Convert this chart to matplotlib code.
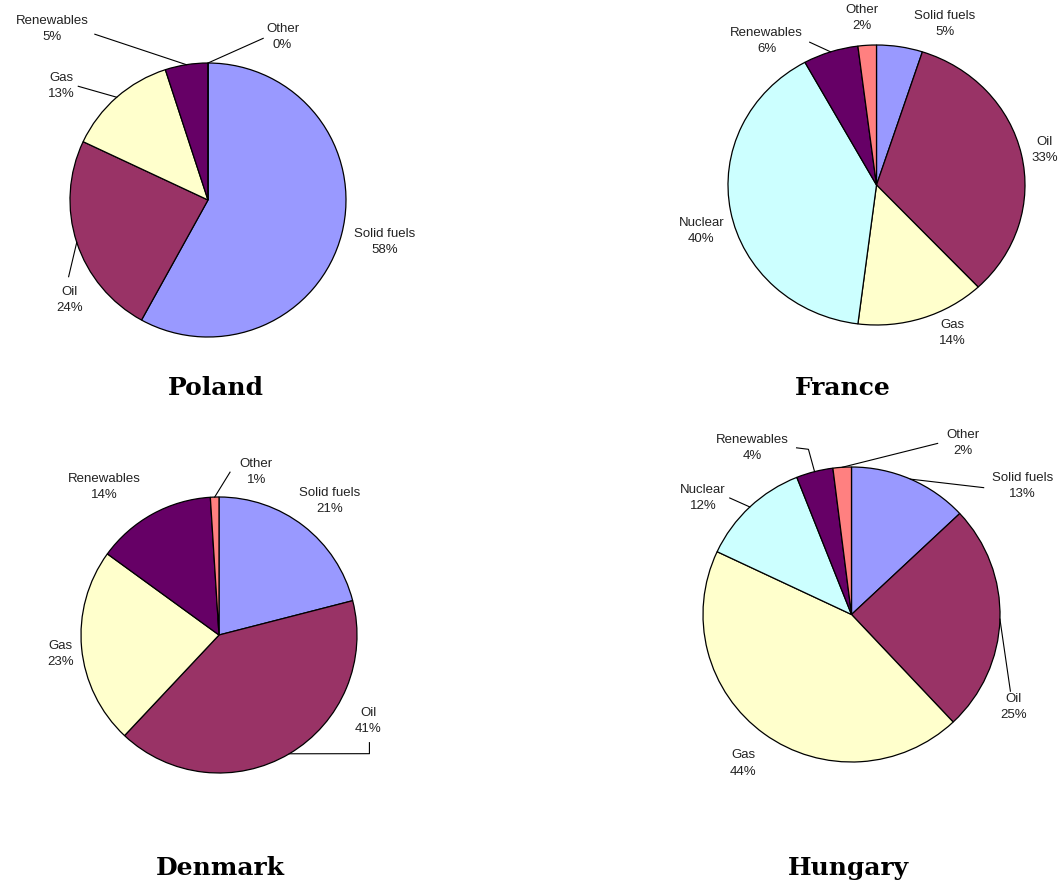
import numpy as np
import matplotlib.pyplot as plt

# figure size in pixels (dpi 100)
W, H = 1060, 888

COLORS = {'Solid fuels': '#9999FF', 'Oil': '#993366', 'Gas': '#FFFFCC',
          'Nuclear': '#CCFFFF', 'Renewables': '#660066', 'Other': '#FF8080'}

# energy mix, share of gross inland consumption (%)
poland_fuels = ['Solid fuels', 'Oil', 'Gas', 'Renewables', 'Other']
poland_share = [58, 24, 13, 5, 0]

france_fuels = ['Solid fuels', 'Oil', 'Gas', 'Nuclear', 'Renewables', 'Other']
france_share = [5, 33, 14, 40, 6, 2]

denmark_fuels = ['Solid fuels', 'Oil', 'Gas', 'Renewables', 'Other']
denmark_share = [21, 41, 23, 14, 1]

hungary_fuels = ['Solid fuels', 'Oil', 'Gas', 'Nuclear', 'Renewables', 'Other']
hungary_share = [13, 25, 44, 12, 4, 2]

# layout: pie centre / radii in pixels, title position in pixels,
# label positions and leader line start points in pie units
charts = [
    dict(name='Poland', fuels=poland_fuels, share=poland_share,
         c=(208, 200), r=(138, 137), title=(216, 388),
         labels={'Solid fuels': (1.28, -0.31), 'Oil': (-1.0, -0.73),
                 'Gas': (-1.06, 0.83), 'Renewables': (-1.13, 1.25),
                 'Other': (0.54, 1.19)},
         leaders={'Oil': [(-1.01, -0.56)], 'Gas': [(-0.94, 0.83)],
                  'Renewables': [(-0.82, 1.21)], 'Other': [(0.40, 1.18)]}),
    dict(name='France', fuels=france_fuels, share=france_share,
         c=(876.5, 185), r=(148.5, 140), title=(843, 388),
         labels={'Solid fuels': (0.46, 1.15), 'Oil': (1.13, 0.25),
                 'Gas': (0.51, -1.06), 'Nuclear': (-1.18, -0.33),
                 'Renewables': (-0.74, 1.03), 'Other': (-0.10, 1.19)},
         leaders={'Renewables': [(-0.45, 1.02)]}),
    dict(name='Denmark', fuels=denmark_fuels, share=denmark_share,
         c=(219, 635), r=(138, 138), title=(220, 868),
         labels={'Solid fuels': (0.80, 0.97), 'Oil': (1.08, -0.62),
                 'Gas': (-1.15, -0.14), 'Renewables': (-0.83, 1.07),
                 'Other': (0.27, 1.18)},
         leaders={'Oil': [(1.09, -0.78), (1.09, -0.86)],
                  'Other': [(0.08, 1.18)]}),
    dict(name='Hungary', fuels=hungary_fuels, share=hungary_share,
         c=(851.5, 614.5), r=(148.5, 147.5), title=(848, 868),
         labels={'Solid fuels': (1.15, 0.87), 'Oil': (1.09, -0.63),
                 'Gas': (-0.73, -1.01), 'Nuclear': (-1.0, 0.79),
                 'Renewables': (-0.67, 1.13), 'Other': (0.75, 1.16)},
         leaders={'Solid fuels': [(0.89, 0.86)], 'Oil': [(1.07, -0.52)],
                  'Nuclear': [(-0.82, 0.79)],
                  'Renewables': [(-0.37, 1.13), (-0.29, 1.12)],
                  'Other': [(0.58, 1.16)]}),
]

fig = plt.figure(figsize=(W / 100, H / 100), dpi=100)
fig.patch.set_facecolor('white')

k = 1.05
for ch in charts:
    cx, cy = ch['c']
    rx, ry = ch['r']
    ax = fig.add_axes([(cx - rx * k) / W, 1 - (cy + ry * k) / H,
                       2 * rx * k / W, 2 * ry * k / H])
    wedges, _ = ax.pie(ch['share'], colors=[COLORS[f] for f in ch['fuels']],
                       startangle=90, counterclock=False,
                       wedgeprops=dict(edgecolor='black', linewidth=0.9))
    ax.set_aspect('auto')
    ax.set_xlim(-k, k)
    ax.set_ylim(-k, k)
    ax.axis('off')

    for w, fuel, val in zip(wedges, ch['fuels'], ch['share']):
        tx, ty = ch['labels'][fuel]
        ax.text(tx, ty, f'{fuel}\n{val}%', ha='center', va='center',
                fontsize=9.5, family='Liberation Sans', linespacing=1.45,
                color='#222222', clip_on=False)
        if fuel in ch['leaders']:
            mid = np.deg2rad((w.theta1 + w.theta2) / 2)
            pts = ch['leaders'][fuel] + [(np.cos(mid), np.sin(mid))]
            xs, ys = zip(*pts)
            ax.plot(xs, ys, color='black', lw=0.8, clip_on=False)

    fig.text(ch['title'][0] / W, 1 - ch['title'][1] / H, ch['name'],
             ha='center', va='center', fontsize=18, fontweight='bold',
             family='DejaVu Serif')

fig.savefig('out.png', dpi=100, facecolor='white')
